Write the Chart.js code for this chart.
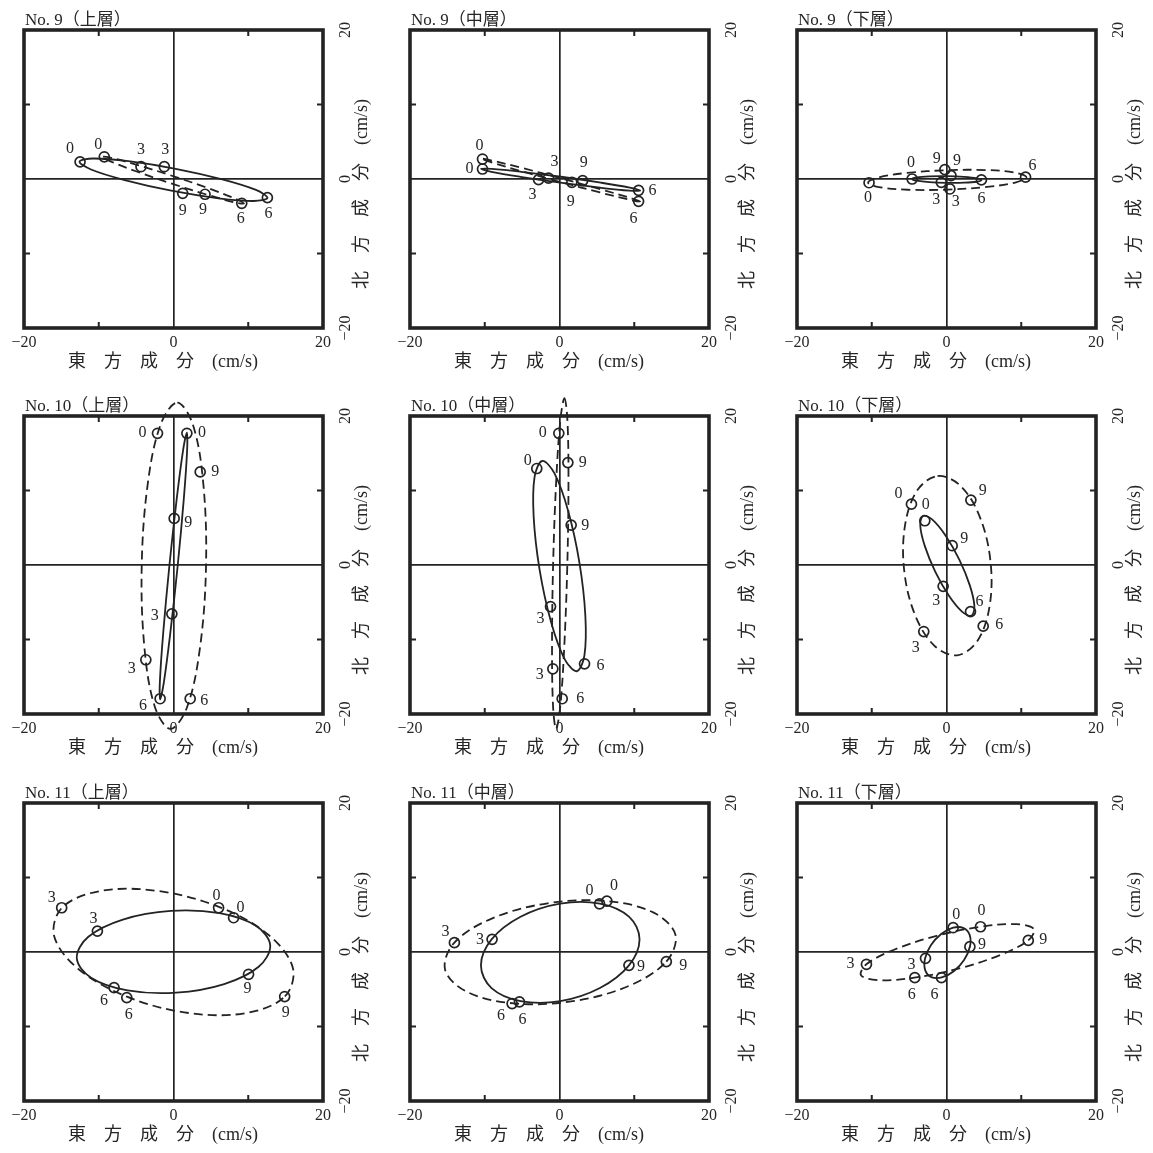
<!DOCTYPE html>
<html>
<head>
<meta charset="utf-8">
<title>潮流楕円</title>
<script src="https://cdn.jsdelivr.net/npm/chart.js@4.4.1/dist/chart.umd.min.js"></script>
<style>
  html, body { margin: 0; padding: 0; background: #ffffff; }
  #sheet { position: relative; width: 1153px; height: 1153px; background: #ffffff; }
  #sheet canvas { position: absolute; }
</style>
</head>
<body>
<div id="sheet"></div>
<script>
// Tidal current ellipses at three stations and three layers.
// x = east component, y = north component (cm/s).
// Curves are closed loops; hour points mark 0, 3, 6 and 9 h.

const hourNames = ['0', '3', '6', '9'];
const stationTitles = ['No. 9', 'No. 10', 'No. 11'];
const layerTitles = ['上層', '中層', '下層'];
const tickValues = [-20, -10, 0, 10, 20];
const tickLabels = ['\u221220', '', '0', '', '20'];
const xAxisTitle = '東\u3000方\u3000成\u3000分\u3000(cm/s)';
const yAxisTitle = '北\u3000方\u3000成\u3000分\u3000(cm/s)';

// ---- No. 9 ----
const st9UpperSolid = [[12.57,-2.54],[11.03,-1.47],[6.53,-0.05],[0.29,1.37],[-6.03,2.39],[-10.75,2.75],[-12.57,2.34],[-11.03,1.27],[-6.53,-0.15],[-0.29,-1.57],[6.03,-2.59],[10.75,-2.95]];
const st9UpperDashed = [[9.44,-3.29],[8.25,-2.63],[4.84,-1.31],[0.11,0.33],[-4.66,1.83],[-8.19,2.81],[-9.54,2.99],[-8.35,2.33],[-4.94,1.01],[-0.21,-0.63],[4.56,-2.13],[8.09,-3.11]];
const st9UpperSolidHours = [[-12.5,2.3],[-1.23,1.65],[12.56,-2.5],[1.23,-1.92]];
const st9UpperDashedHours = [[-9.26,2.98],[-4.35,1.65],[9.13,-3.26],[4.22,-2.05]];

const st9MiddleSolid = [[10.80,-1.55],[9.40,-1.16],[5.53,-0.49],[0.20,0.30],[-5.13,0.97],[-9.04,1.36],[-10.50,1.35],[-9.10,0.96],[-5.23,0.29],[0.10,-0.50],[5.43,-1.17],[9.34,-1.56]];
const st9MiddleDashed = [[10.80,-3.04],[9.40,-2.53],[5.54,-1.39],[0.22,0.09],[-5.12,1.51],[-9.04,2.47],[-10.50,2.74],[-9.10,2.23],[-5.24,1.09],[0.08,-0.39],[5.42,-1.81],[9.34,-2.77]];
const st9MiddleSolidHours = [[-10.3,1.34],[-2.8,-0.09],[10.58,-1.52],[3.1,-0.22]];
const st9MiddleDashedHours = [[-10.3,2.68],[-1.47,0.13],[10.58,-3.0],[1.65,-0.45]];

const st9LowerSolid = [[4.68,-0.15],[4.06,0.09],[2.36,0.28],[0.04,0.38],[-2.30,0.36],[-4.00,0.23],[-4.62,0.01],[-4.00,-0.23],[-2.30,-0.43],[0.02,-0.52],[2.36,-0.50],[4.06,-0.37]];
const st9LowerDashed = [[10.69,0.25],[9.25,0.85],[5.36,1.20],[0.06,1.18],[-5.24,0.82],[-9.09,0.21],[-10.49,-0.49],[-9.05,-1.09],[-5.16,-1.44],[0.15,-1.42],[5.44,-1.06],[9.29,-0.45]];
const st9LowerSolidHours = [[-4.6,0.0],[-0.7,-0.45],[4.67,-0.12],[0.6,0.45]];
const st9LowerDashedHours = [[-10.36,-0.5],[0.45,-1.34],[10.58,0.25],[-0.22,1.25]];

// ---- No. 10 ----
const st10UpperSolid = [[1.79,17.77],[1.82,15.34],[1.37,8.77],[0.55,-0.20],[-0.43,-9.15],[-1.28,-15.68],[-1.79,-18.05],[-1.82,-15.62],[-1.37,-9.05],[-0.55,-0.09],[0.43,8.87],[1.28,15.40]];
const st10UpperDashed = [[0.51,21.8],[2.60,18.82],[4.00,10.77],[4.35,-0.19],[3.54,-11.13],[1.80,-19.12],[-0.41,-22.0],[-2.50,-19.02],[-3.90,-10.97],[-4.25,-0.01],[-3.44,10.93],[-1.70,18.92]];
const st10UpperSolidHours = [[1.79,17.68],[-0.22,-6.56],[-1.79,-17.95],[0.09,6.25]];
const st10UpperDashedHours = [[-2.14,17.68],[-3.7,-12.72],[2.23,-17.95],[3.57,12.5]];

const st10MiddleSolid = [[-2.31,13.96],[-0.67,12.29],[1.15,7.28],[2.67,0.29],[3.46,-6.83],[3.33,-12.15],[2.31,-14.26],[0.67,-12.59],[-1.15,-7.58],[-2.67,-0.59],[-3.46,6.53],[-3.33,11.85]];
const st10MiddleDashed = [[0.66,22.39],[1.06,19.41],[1.20,11.28],[1.05,0.18],[0.64,-10.92],[0.10,-19.03],[-0.46,-21.99],[-0.86,-19.01],[-1.00,-10.88],[-0.85,0.22],[-0.44,11.32],[0.11,19.43]];
const st10MiddleSolidHours = [[-3.04,12.95],[-1.2,-5.58],[3.35,-13.26],[1.56,5.36]];
const st10MiddleDashedHours = [[-0.09,17.68],[-0.89,-13.93],[0.36,-17.95],[1.12,13.75]];

const st10LowerSolid = [[-3.13,6.60],[-1.89,6.09],[-0.11,3.93],[1.73,0.68],[3.13,-2.77],[3.73,-5.51],[3.35,-6.80],[2.11,-6.29],[0.33,-4.13],[-1.51,-0.88],[-2.91,2.57],[-3.51,5.31]];
const st10LowerDashed = [[-1.20,11.94],[1.86,10.64],[4.45,6.47],[5.88,0.54],[5.76,-5.56],[4.13,-10.20],[1.42,-12.12],[-1.64,-10.82],[-4.23,-6.65],[-5.66,-0.72],[-5.54,5.38],[-3.91,10.02]];
const st10LowerSolidHours = [[-2.9,5.94],[-0.45,-2.86],[3.21,-6.25],[0.76,2.59]];
const st10LowerDashedHours = [[-4.69,8.17],[-3.04,-8.93],[4.91,-8.21],[3.26,8.71]];

// ---- No. 11 ----
const st11UpperSolid = [[12.94,0.88],[11.03,3.51],[6.16,5.21],[-0.36,5.52],[-6.78,4.36],[-11.39,2.04],[-12.94,-0.82],[-11.03,-3.45],[-6.16,-5.15],[0.36,-5.46],[6.78,-4.30],[11.39,-1.98]];
const st11UpperDashed = [[14.90,-5.96],[15.97,-2.15],[12.77,2.24],[6.14,6.03],[-2.13,8.20],[-9.83,8.18],[-14.90,5.96],[-15.97,2.15],[-12.77,-2.24],[-6.14,-6.03],[2.13,-8.20],[9.83,-8.18]];
const st11UpperSolidHours = [[8.04,4.6],[-10.18,2.81],[-7.95,-4.78],[10.04,-2.99]];
const st11UpperDashedHours = [[6.03,5.94],[-14.96,5.94],[-6.25,-6.12],[14.87,-5.98]];

const st11MiddleSolid = [[9.29,-1.80],[10.71,1.71],[9.29,4.75],[5.40,6.50],[0.10,6.50],[-5.21,4.74],[-9.09,1.70],[-10.51,-1.81],[-9.09,-4.85],[-5.20,-6.60],[0.11,-6.60],[5.41,-4.84]];
const st11MiddleDashed = [[14.29,-1.29],[15.51,2.31],[12.60,5.28],[6.34,6.83],[-1.59,6.54],[-9.07,4.49],[-14.09,1.23],[-15.31,-2.37],[-12.40,-5.34],[-6.14,-6.89],[1.79,-6.60],[9.27,-4.55]];
const st11MiddleSolidHours = [[5.36,6.47],[-9.02,1.7],[-5.36,-6.7],[9.29,-1.79]];
const st11MiddleDashedHours = [[6.34,6.83],[-14.06,1.25],[-6.34,-6.92],[14.29,-1.29]];

const st11LowerSolid = [[3.13,0.71],[3.11,2.27],[2.29,3.21],[0.89,3.26],[-0.71,2.42],[-2.09,0.91],[-2.87,-0.87],[-2.85,-2.43],[-2.03,-3.37],[-0.63,-3.42],[0.97,-2.58],[2.35,-1.07]];
const st11LowerDashed = [[10.94,1.56],[11.70,3.06],[9.36,3.73],[4.55,3.39],[-1.45,2.14],[-7.02,0.30],[-10.68,-1.62],[-11.44,-3.12],[-9.10,-3.79],[-4.29,-3.45],[1.71,-2.20],[7.28,-0.36]];
const st11LowerSolidHours = [[0.89,3.26],[-2.81,-0.85],[-0.67,-3.44],[3.13,0.71]];
const st11LowerDashedHours = [[4.55,3.39],[-10.71,-1.65],[-4.24,-3.44],[10.94,1.56]];

// Panels in reading order (rows: stations, columns: layers)
const panels = [
  { station: 0, layer: 0, solid: st9UpperSolid,   dashed: st9UpperDashed,   solidHours: st9UpperSolidHours,   dashedHours: st9UpperDashedHours },
  { station: 0, layer: 1, solid: st9MiddleSolid,  dashed: st9MiddleDashed,  solidHours: st9MiddleSolidHours,  dashedHours: st9MiddleDashedHours },
  { station: 0, layer: 2, solid: st9LowerSolid,   dashed: st9LowerDashed,   solidHours: st9LowerSolidHours,   dashedHours: st9LowerDashedHours },
  { station: 1, layer: 0, solid: st10UpperSolid,  dashed: st10UpperDashed,  solidHours: st10UpperSolidHours,  dashedHours: st10UpperDashedHours },
  { station: 1, layer: 1, solid: st10MiddleSolid, dashed: st10MiddleDashed, solidHours: st10MiddleSolidHours, dashedHours: st10MiddleDashedHours },
  { station: 1, layer: 2, solid: st10LowerSolid,  dashed: st10LowerDashed,  solidHours: st10LowerSolidHours,  dashedHours: st10LowerDashedHours },
  { station: 2, layer: 0, solid: st11UpperSolid,  dashed: st11UpperDashed,  solidHours: st11UpperSolidHours,  dashedHours: st11UpperDashedHours },
  { station: 2, layer: 1, solid: st11MiddleSolid, dashed: st11MiddleDashed, solidHours: st11MiddleSolidHours, dashedHours: st11MiddleDashedHours },
  { station: 2, layer: 2, solid: st11LowerSolid,  dashed: st11LowerDashed,  solidHours: st11LowerSolidHours,  dashedHours: st11LowerDashedHours }
];

// Where each hour number sits relative to its circle (px), per panel
const hourLabelShift = [
  { solid: [[-10,-13],[1,-17],[1,16],[0,17]],   dashed: [[-6,-12],[0,-17],[-1,16],[-2,16]] },
  { solid: [[-13,0],[-6,15],[14,0],[1,-18]],    dashed: [[-3,-13],[6,-16],[-5,17],[-1,19]] },
  { solid: [[-1,-16],[-5,17],[0,19],[6,-15]],   dashed: [[-1,15],[6,13],[7,-11],[-8,-11]] },
  { solid: [[15,0],[-17,2],[-17,7],[14,4]],     dashed: [[-15,0],[-14,9],[14,2],[15,0]] },
  { solid: [[-9,-8],[-10,12],[16,2],[14,1]],    dashed: [[-16,0],[-13,6],[18,0],[15,0]] },
  { solid: [[1,-16],[-7,14],[9,-10],[12,-7]],   dashed: [[-13,-10],[-8,16],[16,-1],[12,-9]] },
  { solid: [[7,-10],[-4,-12],[-10,13],[-1,15]], dashed: [[-2,-12],[-10,-10],[2,17],[1,16]] },
  { solid: [[-10,-13],[-12,0],[3,18],[12,1]],   dashed: [[7,-15],[-9,-11],[-11,12],[17,4]] },
  { solid: [[3,-13],[-14,6],[-7,17],[12,-2]],   dashed: [[1,-16],[-16,0],[-3,17],[15,-1]] }
];

// ---- appearance ----
const INK = '#232323';
const TEXT = '#262626';
const SERIF = "'Liberation Serif', 'Noto Sans CJK JP', serif";
const CELL = 386;
const cellLeft = [0, 386, 773];
const cellTop = [0, 386, 773];

const toPoints = arr => arr.map(p => ({ x: p[0], y: p[1] }));
const labelFor = v => { const i = tickValues.indexOf(v); return i < 0 ? '' : tickLabels[i]; };
const innerTicks = tickValues.filter((v, i) => tickLabels[i] === '');

// Close each traced curve into a smooth loop
const closeLoops = {
  id: 'closeLoops',
  afterDatasetUpdate(chart, args) {
    const ds = chart.data.datasets[args.index];
    const line = args.meta.dataset;
    if (ds.closed && line) {
      line._loop = true;
      line._fullLoop = true;
      line._pointsUpdated = false;
      line._segments = undefined;
      line._path = undefined;
    }
  }
};

// Heavy frame with inward tick marks
const frame = {
  id: 'frame',
  beforeDatasetsDraw(chart) {
    const { ctx, chartArea: a, scales: { x, y } } = chart;
    ctx.save();
    ctx.strokeStyle = INK;
    ctx.lineWidth = 3.6;
    ctx.strokeRect(a.left, a.top, a.right - a.left, a.bottom - a.top);
    ctx.lineWidth = 2;
    ctx.beginPath();
    innerTicks.forEach(v => {
      const px = x.getPixelForValue(v);
      const py = y.getPixelForValue(v);
      ctx.moveTo(px, a.bottom); ctx.lineTo(px, a.bottom - 6);
      ctx.moveTo(px, a.top); ctx.lineTo(px, a.top + 6);
      ctx.moveTo(a.left, py); ctx.lineTo(a.left + 6, py);
      ctx.moveTo(a.right, py); ctx.lineTo(a.right - 6, py);
    });
    ctx.stroke();
    ctx.restore();
  }
};

// Panel title, axis titles and hour numbers
const annotations = {
  id: 'annotations',
  afterDraw(chart, args, opts) {
    const { ctx, chartArea: a } = chart;
    ctx.save();
    ctx.fillStyle = TEXT;

    ctx.font = '17px ' + SERIF;
    ctx.textAlign = 'left';
    ctx.textBaseline = 'alphabetic';
    ctx.fillText(opts.title, a.left + 1, a.top - 5);

    ctx.font = '18px ' + SERIF;
    ctx.textBaseline = 'middle';
    ctx.fillText(xAxisTitle, a.left + 44, a.bottom + 34);

    ctx.save();
    ctx.translate(a.right + 39, a.top + 259);
    ctx.rotate(-Math.PI / 2);
    ctx.fillText(yAxisTitle, 0, 0);
    ctx.restore();

    ctx.font = '16px ' + SERIF;
    ctx.textAlign = 'center';
    ctx.textBaseline = 'middle';
    chart.data.datasets.forEach((ds, i) => {
      if (!ds.hourShift) return;
      chart.getDatasetMeta(i).data.forEach((pt, j) => {
        const s = ds.hourShift[j];
        ctx.fillText(hourNames[j], pt.x + s[0], pt.y + s[1]);
      });
    });
    ctx.restore();
  }
};

function curveDataset(points, dashed) {
  return {
    data: toPoints(points),
    closed: true,
    showLine: true,
    borderColor: INK,
    borderWidth: 1.8,
    borderDash: dashed ? [9, 5] : [],
    pointRadius: 0,
    tension: 0.35,
    fill: false,
    clip: false
  };
}

function hourDataset(points, shift) {
  return {
    data: toPoints(points),
    hourShift: shift,
    showLine: false,
    pointRadius: 5,
    pointBorderWidth: 1.7,
    pointBorderColor: INK,
    pointBackgroundColor: 'rgba(0,0,0,0)',
    clip: false
  };
}

function axisOptions(position) {
  const horizontal = position === 'bottom';
  return {
    type: 'linear',
    position: position,
    min: -20,
    max: 20,
    afterBuildTicks: s => { s.ticks = tickValues.map(v => ({ value: v })); },
    afterFit: s => { if (horizontal) { s.height = 58; } else { s.width = 63; } },
    grid: {
      drawTicks: false,
      lineWidth: 1.7,
      color: c => (c.tick && c.tick.value === 0) ? INK : 'rgba(0,0,0,0)'
    },
    border: { display: false },
    ticks: {
      autoSkip: false,
      callback: v => labelFor(v),
      color: TEXT,
      font: { family: SERIF, size: 16 },
      padding: horizontal ? 5 : 10,
      minRotation: horizontal ? 0 : 90,
      maxRotation: horizontal ? 0 : 90,
      crossAlign: horizontal ? 'near' : 'center'
    }
  };
}

const sheet = document.getElementById('sheet');
panels.forEach((p, k) => {
  const canvas = document.createElement('canvas');
  canvas.width = CELL;
  canvas.height = CELL;
  canvas.style.width = CELL + 'px';
  canvas.style.height = CELL + 'px';
  canvas.style.left = cellLeft[p.layer] + 'px';
  canvas.style.top = cellTop[p.station] + 'px';
  sheet.appendChild(canvas);

  new Chart(canvas, {
    type: 'line',
    data: {
      datasets: [
        curveDataset(p.dashed, true),
        curveDataset(p.solid, false),
        hourDataset(p.dashedHours, hourLabelShift[k].dashed),
        hourDataset(p.solidHours, hourLabelShift[k].solid)
      ]
    },
    options: {
      responsive: false,
      animation: false,
      devicePixelRatio: 1,
      events: [],
      layout: { padding: { left: 24, top: 30, right: 0, bottom: 0 } },
      elements: { line: { capBezierPoints: false } },
      scales: { x: axisOptions('bottom'), y: axisOptions('right') },
      plugins: {
        legend: { display: false },
        tooltip: { enabled: false },
        annotations: { title: stationTitles[p.station] + '（' + layerTitles[p.layer] + '）' }
      }
    },
    plugins: [closeLoops, frame, annotations]
  });
});
</script>
</body>
</html>
